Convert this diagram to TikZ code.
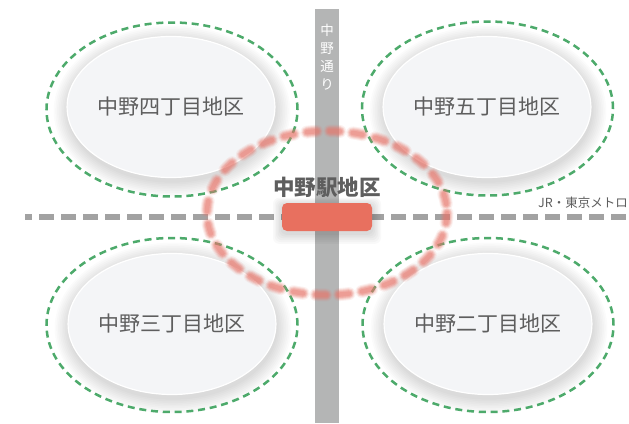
\documentclass[tikz,border=0pt]{standalone}
\usepackage{fontspec}
\newfontfamily\jp{Noto Sans CJK JP}
\usetikzlibrary{shapes.geometric}
\definecolor{roadgray}{HTML}{B4B5B5}
\definecolor{railgray}{HTML}{A2A2A2}
\definecolor{fillgray}{HTML}{F4F5F7}
\definecolor{textgray}{HTML}{5E5E5E}
\definecolor{zonegreen}{HTML}{4DAA6B}
\definecolor{stationred}{HTML}{E8705F}
\definecolor{areared}{HTML}{E8766B}
\tikzset{
  district/.style={ellipse, fill=fillgray, draw=white, line width=1.2pt,
    minimum width=207pt, minimum height=141pt, inner sep=0pt, outer sep=0pt,
    text=textgray, font=\jp\fontsize{21}{25}\selectfont},
  zone/.style={ellipse, draw=zonegreen, line width=2.5pt, dash pattern=on 7pt off 4.8pt,
    minimum width=251pt, minimum height=174pt, inner sep=0pt, outer sep=0pt},
  roadbar/.style={rectangle, fill=roadgray, minimum width=24pt, minimum height=414pt,
    inner sep=0pt, outer sep=0pt},
  roadlabel/.style={text=white, align=center, inner sep=0pt,
    font=\jp\fontsize{13.5}{18}\selectfont},
  railline/.style={draw=railgray, line width=5.5pt, dash pattern=on 15pt off 7pt, dash phase=8pt},
  areastroke/.style={draw=areared, line cap=round, dash pattern=on 10pt off 13pt},
  stationbox/.style={rectangle, rounded corners=5pt, fill=stationred, minimum width=90pt,
    minimum height=28pt, inner sep=0pt, outer sep=0pt},
  stationlabel/.style={text=textgray, inner sep=0pt,
    font=\jp\bfseries\fontsize{21.5}{25}\selectfont},
  raillabel/.style={text=textgray, inner sep=0pt, anchor=east,
    font=\jp\fontsize{12.5}{15}\selectfont}
}
\begin{document}
\begin{tikzpicture}[x=1pt,y=-1pt]
\useasboundingbox (0,0) rectangle (629,423);
\fill[white] (0,0) rectangle (629,423);
% soft shadows of the district ellipses
\foreach \x/\y in {171/107, 487/107, 172/324, 488/324}{
  \foreach \i in {1,...,9}{
    \fill[black, opacity=0.016] (\x+1,\y+4) ellipse [x radius=103+\i*1.7, y radius=70+\i*1.7];
  }
}
% district ellipses
\node[district] (d4) at (171,107) {中野四丁目地区};
\node[district] (d5) at (487,107) {中野五丁目地区};
\node[district] (d3) at (172,324) {中野三丁目地区};
\node[district] (d2) at (488,324) {中野二丁目地区};
% green dashed zones
\node[zone] (z4) at (172,109.5) {};
\node[zone] (z5) at (487.5,108.5) {};
\node[zone] (z3) at (172,325) {};
\node[zone] (z2) at (488,325) {};
% road
\node[roadbar] (road) at (327,216) {};
\node[roadlabel] (roadname) at (327,57) {中\\野\\通\\り};
% rail line
\coordinate (railW) at (25,217);
\coordinate (railE) at (629,217);
\draw[railline] (railW) -- (railE);
% station area (blurred dashed ellipse)
\coordinate (areaC) at (327,213);
\foreach \w/\o in {13/0.1, 11/0.16, 9/0.22, 7/0.28, 4.5/0.3}{
  \draw[areastroke, line width=\w pt, draw opacity=\o] (areaC) ellipse [x radius=120, y radius=82];
}
% station box with shadow
\foreach \i in {1,...,6}{
  \fill[black, opacity=0.025, rounded corners=6pt] (282-\i*1.5,205-\i*1.2) rectangle (372+\i*1.5,233+\i*1.8);
}
\node[stationbox] (station) at (327,217) {};
% labels
\node[stationlabel] (stationname) at (327,187) {中野駅地区};
\node[raillabel] (rail) at (628,203) {JR・東京メトロ};
\end{tikzpicture}
\end{document}
